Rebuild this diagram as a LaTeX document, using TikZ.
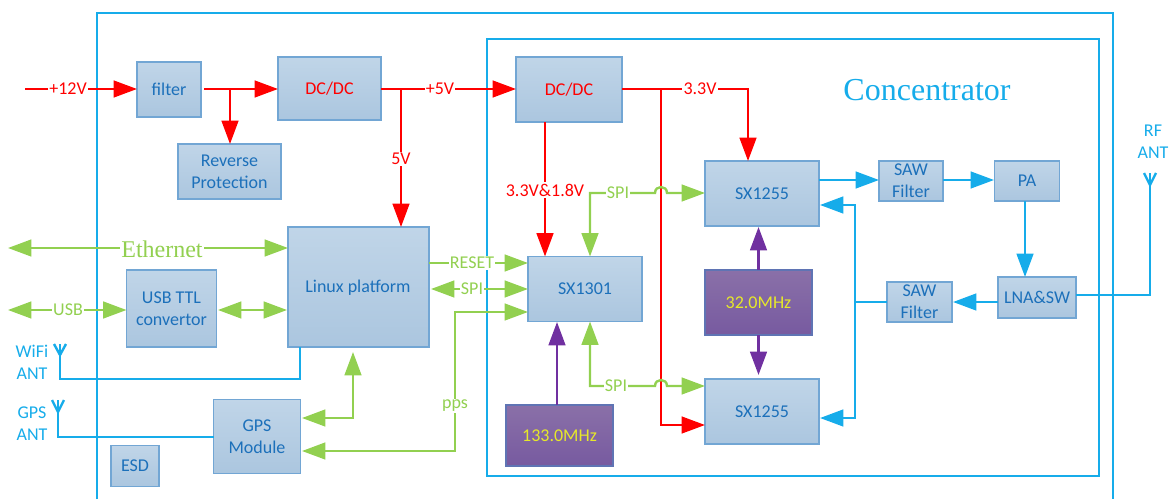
\documentclass[tikz,border=0pt]{standalone}
\usepackage{fontspec}
\setmainfont{Carlito}
\newfontfamily\serifx{Liberation Serif}
\usetikzlibrary{arrows.meta}
\definecolor{cyanx}{HTML}{16ACEA}
\definecolor{redx}{HTML}{FF0000}
\definecolor{greenx}{HTML}{92D050}
\definecolor{purplex}{HTML}{7030A0}
\definecolor{txtblue}{HTML}{1C70BA}
\definecolor{boxtop}{HTML}{C0D5E8}
\definecolor{boxbot}{HTML}{ABC6DF}
\definecolor{boxline}{HTML}{72A6D4}
\definecolor{osctop}{HTML}{8A70A8}
\definecolor{oscbot}{HTML}{775AA0}
\definecolor{oscline}{HTML}{5F74B4}
\definecolor{yellowx}{HTML}{E6E82A}
\tikzset{
  x=0.75pt,y=-0.75pt,
  sz/.style 2 args={minimum width=#1*0.75pt,minimum height=#2*0.75pt},
  blk/.style={draw=boxline,line width=0.9pt,top color=boxtop,bottom color=boxbot,text=txtblue,
    inner sep=0pt,outer sep=0pt,align=center,font=\fontsize{13.5}{16.5}\selectfont},
  osc/.style={draw=oscline,line width=0.9pt,top color=osctop,bottom color=oscbot,text=yellowx,
    inner sep=0pt,outer sep=0pt,align=center,font=\fontsize{13.5}{16.5}\selectfont},
  tipd/.tip={Triangle[length=17.5pt,width=12.5pt]},
  con/.style={line width=1.8pt,line join=miter},
  redc/.style={con,draw=redx},
  grnc/.style={con,draw=greenx},
  purc/.style={con,draw=purplex},
  bluc/.style={con,draw=cyanx},
  frameb/.style={draw=cyanx,line width=1.9pt},
  lab/.style={fill=white,inner sep=1pt,font=\fontsize{13.5}{15}\selectfont},
  redl/.style={lab,text=redx},
  grnl/.style={lab,text=greenx},
  blul/.style={inner sep=0pt,align=center,text=cyanx,font=\fontsize{13.5}{16.5}\selectfont},
}
\begin{document}
\begin{tikzpicture}
\useasboundingbox (0,0) rectangle (1169,499);
% frames
\draw[frameb] (97,499) -- (97,13) -- (1113,13) -- (1113,499);
\draw[frameb] (487,39) rectangle (1099,476);
\node[text=cyanx,font=\serifx\fontsize{24}{26}\selectfont,inner sep=0pt] (conc) at (927,90) {Concentrator};
% blocks
\node[blk,sz={64}{55}] (filter) at (169,89.5) {filter};
\node[blk,sz={103}{63},text=redx] (dca) at (329.5,88.5) {DC/DC};
\node[blk,sz={103}{55}] (rev) at (229.5,171.5) {Reverse\\Protection};
\node[blk,sz={141}{120}] (linux) at (358.5,287) {};
\node[text=txtblue,inner sep=0pt,font=\fontsize{13.5}{16.5}\selectfont] (linuxt) at (358,288) {Linux platform};
\node[blk,sz={90}{77}] (usb) at (171.5,308.5) {USB TTL\\convertor};
\node[blk,sz={87}{74}] (gps) at (257,436.5) {GPS\\Module};
\node[blk,sz={48}{41}] (esd) at (135,466) {ESD};
\node[blk,sz={106}{65},text=redx] (dcb) at (569,89.5) {DC/DC};
\node[blk,sz={114}{65}] (sxm) at (585,289) {SX1301};
\node[blk,sz={114}{65}] (sxa) at (762,193.5) {SX1255};
\node[blk,sz={114}{65}] (sxb) at (762,411.5) {SX1255};
\node[osc,sz={107}{65}] (xa) at (758.5,302.5) {32.0MHz};
\node[osc,sz={107}{61}] (xb) at (559.5,435.5) {133.0MHz};
\node[blk,sz={64}{40}] (sawa) at (911,181) {SAW\\Filter};
\node[blk,sz={65}{40}] (pa) at (1027,181) {PA};
\node[blk,sz={78}{41}] (lna) at (1037,297.5) {LNA\&SW};
\node[blk,sz={65}{40}] (sawb) at (919.5,302) {SAW\\Filter};
% waypoints
\coordinate (in12) at (25,89);
\coordinate (jrev) at (230,89);
\coordinate (j5v) at (401,89);
\coordinate (j33) at (661,89);
\coordinate (r33) at (748,89);
\coordinate (dcbd) at (545,122);
\coordinate (sbbot) at (661,425);
\coordinate (ethl) at (8,248);
\coordinate (usbl) at (8,310);
\coordinate (rstst) at (429,263);
\coordinate (spist) at (431,289);
\coordinate (ppsa) at (455,312);
\coordinate (ppsb) at (455,451);
\coordinate (gpsup) at (353,418);
\coordinate (spia) at (590,193);
\coordinate (spib) at (590,386);
\coordinate (bj) at (855,302);
\coordinate (byt) at (855,205);
\coordinate (byb) at (855,418);
\coordinate (xbup) at (557,405);
\coordinate (rfc) at (1150,295);
\coordinate (rftip) at (1150,185);
\coordinate (wftip) at (60,355);
\coordinate (wfc) at (60,379);
\coordinate (wfe) at (300,379);
\coordinate (gptip) at (58,412);
\coordinate (gpc) at (58,437);
% red
\draw[redc,-{tipd}] (in12) -- (filter.west |- in12);
\draw[redc,-{tipd}] (204,89) -- (dca.west |- in12);
\draw[redc,-{tipd}] (jrev) -- (jrev |- rev.north);
\draw[redc,-{tipd}] (dca.east |- j5v) -- (dcb.west |- j5v);
\draw[redc,-{tipd}] (j5v) -- (j5v |- linux.north);
\draw[redc,-{tipd}] (dcb.east |- r33) -- (r33) -- (r33 |- sxa.north);
\draw[redc,-{tipd}] (j33) -- (sbbot) -- (sbbot -| sxb.west);
\draw[redc,-{tipd}] (dcbd) -- (dcbd |- sxm.north);
\node[redl] (l12) at (68,89) {+12V};
\node[redl] (l5a) at (440,89) {+5V};
\node[redl] (l5b) at (401,159) {5V};
\node[redl] (l33) at (700,89) {3.3V};
\node[redl] (l3318) at (545,190) {3.3V\&1.8V};
% green
\draw[grnc,{tipd}-{tipd}] (ethl) -- (ethl -| linux.west);
\node[fill=white,inner sep=1pt,text=greenx,font=\serifx\fontsize{18}{20}\selectfont] (leth) at (162,249) {Ethernet};
\draw[grnc,{tipd}-{tipd}] (usbl) -- (usbl -| usb.west);
\node[grnl] (lusb) at (68,310) {USB};
\draw[grnc,{tipd}-{tipd}] (218,310) -- (287,310);
\draw[grnc,-{tipd}] (rstst) -- (rstst -| sxm.west);
\node[grnl] (lrst) at (472,263) {RESET};
\draw[grnc,{tipd}-{tipd}] (spist) -- (spist -| sxm.west);
\node[grnl] (lspi) at (472,289) {SPI};
\draw[grnc,{tipd}-{tipd}] (ppsa -| sxm.west) -- (ppsa) -- (ppsb) -- (302,451);
\node[grnl] (lpps) at (455,406) {pps};
\draw[grnc,{tipd}-{tipd}] (302,418) -- (gpsup) -- (353,352);
\draw[grnc,{tipd}-{tipd}] (spia |- sxm.north) -- (spia) -- (655,193) .. controls (655,185) and (667,185) .. (667,193) -- (705,193);
\node[grnl] (lspa) at (618,193) {SPI};
\draw[grnc,{tipd}-{tipd}] (spib |- sxm.south) -- (spib) -- (655,386) .. controls (655,378) and (667,378) .. (667,386) -- (705,386);
\node[grnl] (lspb) at (616,386) {SPI};
% purple
\draw[purc,-{tipd}] (xa.north) -- (758.5,227);
\draw[purc,-{tipd}] (xa.south) -- (758.5,375);
\draw[purc,-{tipd}] (xbup) -- (557,322);
% blue
\draw[bluc,-{tipd}] (819,180) -- (879,180);
\draw[bluc,-{tipd}] (943,180) -- (994,180);
\draw[bluc,-{tipd}] (1025,201) -- (1025,277);
\draw[bluc,-{tipd}] (lna.west |- bj) -- (953,302);
\draw[bluc] (sawb.west) -- (bj);
\draw[bluc,{tipd}-{tipd}] (820,205) -- (byt) -- (byb) -- (820,418);
\draw[bluc] (lna.east |- rfc) -- (rfc) -- (rftip);
\draw[bluc] (1144,173) -- (rftip) -- (1156,173);
\draw[bluc] (wftip) -- (wfc) -- (wfe) -- (wfe |- linux.south);
\draw[bluc] (54,344) -- (wftip) -- (66,344);
\draw[bluc] (gptip) -- (gpc) -- (gpc -| gps.west);
\draw[bluc] (52,400) -- (gptip) -- (64,400);
% antenna stems
\draw[bluc] (rftip) -- (1150,173);
\draw[bluc] (wftip) -- (60,344);
\draw[bluc] (gptip) -- (58,400);
\node[blul] (lrf) at (1153,142) {RF\\ANT};
\node[blul] (lwf) at (32,362) {WiFi\\ANT};
\node[blul] (lgp) at (32,424) {GPS\\ANT};
\end{tikzpicture}
\end{document}
